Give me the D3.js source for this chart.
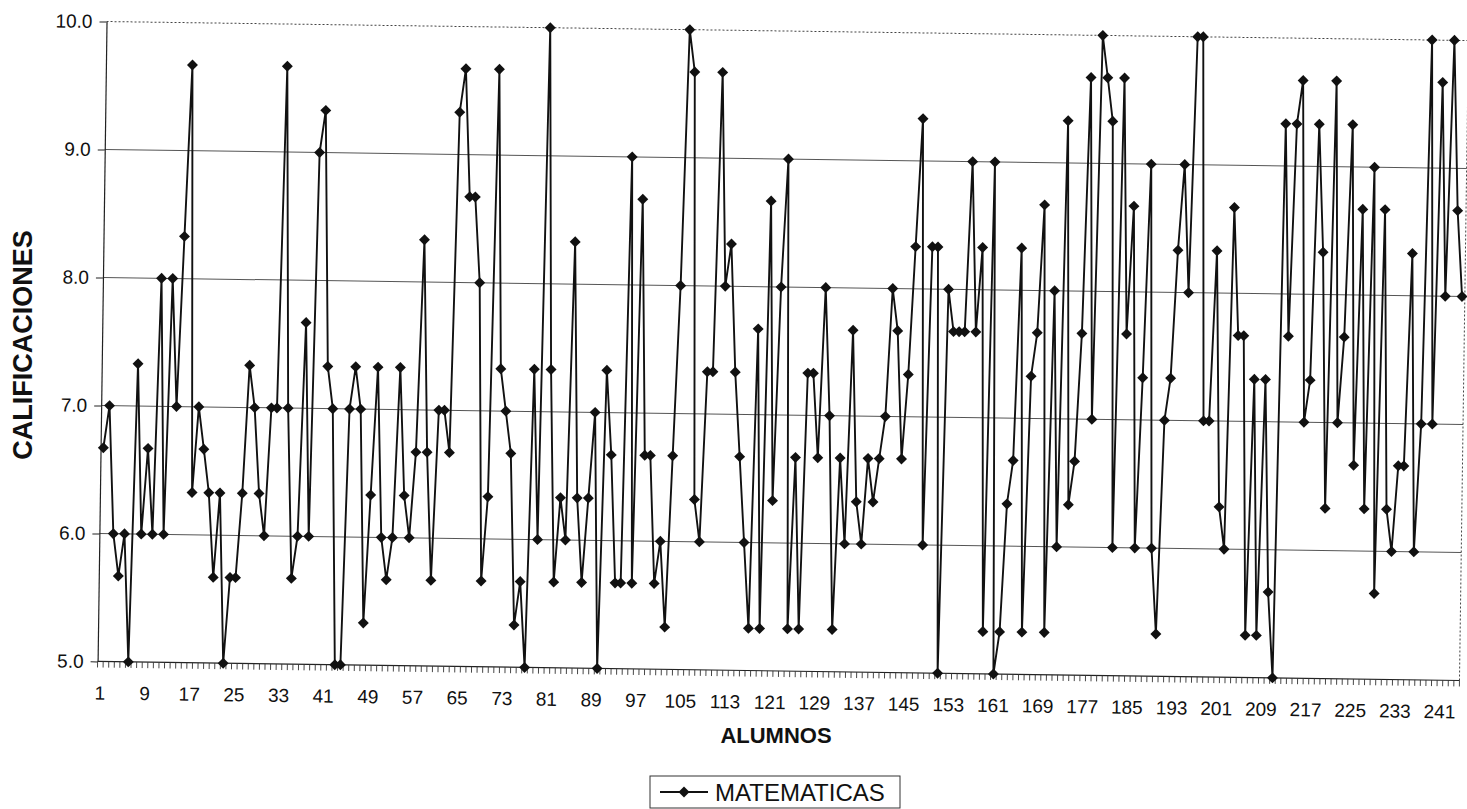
<!DOCTYPE html>
<html>
<head>
<meta charset="utf-8">
<script src="https://cdn.jsdelivr.net/npm/d3@7/dist/d3.min.js"></script>
<style>
  body { margin: 0; background: #fff; }
  svg text { font-family: "Liberation Sans", Arial, sans-serif; fill: #111; }
</style>
</head>
<body>
<script>

// calificaciones de matematicas, un valor por alumno (1..244)
const matematicas = [
  6.67, 7.0, 6.0, 5.67, 6.0, 5.0, 7.33, 6.0, 6.67, 6.0,
  8.0, 6.0, 8.0, 7.0, 8.33, 9.67, 6.33, 7.0, 6.67, 6.33,
  5.67, 6.33, 5.0, 5.67, 5.67, 6.33, 7.33, 7.0, 6.33, 6.0,
  7.0, 7.0, 9.67, 7.0, 5.67, 6.0, 7.67, 6.0, 9.0, 9.33,
  7.33, 7.0, 5.0, 5.0, 7.0, 7.33, 7.0, 5.33, 6.33, 7.33,
  6.0, 5.67, 6.0, 7.33, 6.33, 6.0, 6.67, 8.33, 6.67, 5.67,
  7.0, 7.0, 6.67, 9.33, 9.67, 8.67, 8.67, 8.0, 5.67, 6.33,
  9.67, 7.33, 7.0, 6.67, 5.33, 5.67, 5.0, 7.33, 6.0, 10.0,
  7.33, 5.67, 6.33, 6.0, 8.33, 6.33, 5.67, 6.33, 7.0, 5.0,
  7.33, 6.67, 5.67, 5.67, 9.0, 5.67, 8.67, 6.67, 6.67, 5.67,
  6.0, 5.33, 6.67, 8.0, 10.0, 9.67, 6.33, 6.0, 7.33, 7.33,
  9.67, 8.0, 8.33, 7.33, 6.67, 6.0, 5.33, 7.67, 5.33, 8.67,
  6.33, 8.0, 9.0, 5.33, 6.67, 5.33, 7.33, 7.33, 6.67, 8.0,
  7.0, 5.33, 6.67, 6.0, 7.67, 6.33, 6.0, 6.67, 6.33, 6.67,
  7.0, 8.0, 7.67, 6.67, 7.33, 8.33, 9.33, 6.0, 8.33, 8.33,
  5.0, 8.0, 7.67, 7.67, 7.67, 9.0, 7.67, 8.33, 5.33, 9.0,
  5.0, 5.33, 6.33, 6.67, 8.33, 5.33, 7.33, 7.67, 8.67, 5.33,
  8.0, 6.0, 9.33, 6.33, 6.67, 7.67, 9.67, 7.0, 10.0, 9.67,
  9.33, 6.0, 9.67, 7.67, 8.67, 6.0, 7.33, 9.0, 6.0, 5.33,
  7.0, 7.33, 8.33, 9.0, 8.0, 10.0, 10.0, 7.0, 7.0, 8.33,
  6.33, 6.0, 8.67, 7.67, 7.67, 5.33, 7.33, 5.33, 7.33, 5.67,
  5.0, 9.33, 7.67, 9.33, 9.67, 7.0, 7.33, 9.33, 8.33, 6.33,
  9.67, 7.0, 7.67, 9.33, 6.67, 8.67, 6.33, 9.0, 5.67, 8.67,
  6.33, 6.0, 6.67, 6.67, 8.33, 6.0, 7.0, 10.0, 7.0, 9.67,
  8.0, 10.0, 8.67, 8.0
];

const alumnos = matematicas.map((d, i) => i + 1);

const xTickLabels = [1, 9, 17, 25, 33, 41, 49, 57, 65, 73, 81, 89, 97, 105, 113, 121,
  129, 137, 145, 153, 161, 169, 177, 185, 193, 201, 209, 217, 225, 233, 241];
const yTicks = [5, 6, 7, 8, 9, 10];

const serie = alumnos.map((a, i) => ({alumno: a, nota: matematicas[i]}));

const width = 1467, height = 809;
const plot = {left: 102, right: 1464, top: 31, bottom: 671};

const svg = d3.select("body")
  .append("svg")
  .attr("width", width)
  .attr("height", height);

// la hoja escaneada esta un poco girada
const g = svg.append("g")
  .attr("transform", "rotate(0.8 783 351)");

const x = d3.scaleBand()
  .domain(alumnos)
  .range([plot.left, plot.right])
  .paddingInner(0);

const xc = a => x(a) + x.bandwidth() / 2;

const y = d3.scaleLinear()
  .domain([5, 10])
  .range([plot.bottom, plot.top]);

// lineas de division
g.selectAll(".grid")
  .data(yTicks.filter(v => v > 5 && v < 10))
  .enter()
    .append("line")
    .attr("class", "grid")
    .attr("x1", plot.left)
    .attr("x2", plot.right)
    .attr("y1", d => y(d))
    .attr("y2", d => y(d))
    .attr("stroke", "#555")
    .attr("stroke-width", 1);

// borde punteado arriba y a la derecha
g.append("path")
  .attr("d", `M${plot.left},${y(10)}H${plot.right}V${plot.bottom}`)
  .attr("fill", "none")
  .attr("stroke", "#444")
  .attr("stroke-width", 1)
  .attr("stroke-dasharray", "2,2");

// eje y
const yAxis = g.append("g")
  .attr("transform", `translate(${plot.left},0)`)
  .call(d3.axisLeft(y)
    .tickValues(yTicks)
    .tickFormat(d3.format(".1f"))
    .tickSize(7)
    .tickSizeOuter(0)
    .tickPadding(7));
yAxis.select(".domain").attr("stroke", "#222").attr("stroke-width", 1.2);
yAxis.selectAll(".tick line").attr("stroke", "#222");
yAxis.selectAll("text").attr("font-size", 19).attr("fill", "#111");

// eje x: marcas menores entre categorias
g.append("line")
  .attr("x1", plot.left)
  .attr("x2", plot.right)
  .attr("y1", plot.bottom)
  .attr("y2", plot.bottom)
  .attr("stroke", "#222")
  .attr("stroke-width", 1.2);

g.selectAll(".minor")
  .data(alumnos.concat(["fin"]))
  .enter()
    .append("line")
    .attr("class", "minor")
    .attr("x1", d => d === "fin" ? plot.right : x(d))
    .attr("x2", d => d === "fin" ? plot.right : x(d))
    .attr("y1", plot.bottom)
    .attr("y2", plot.bottom + 6)
    .attr("stroke", "#333")
    .attr("stroke-width", 0.9);

g.selectAll(".xlabel")
  .data(xTickLabels)
  .enter()
    .append("text")
    .attr("class", "xlabel")
    .attr("x", d => xc(d))
    .attr("y", plot.bottom + 38)
    .attr("text-anchor", "middle")
    .attr("font-size", 19)
    .text(d => d);

// serie
const line = d3.line()
  .x(d => xc(d.alumno))
  .y(d => y(d.nota));

g.append("path")
  .datum(serie)
  .attr("d", line)
  .attr("fill", "none")
  .attr("stroke", "#111")
  .attr("stroke-width", 1.9)
  .attr("stroke-linejoin", "round");

const marker = d3.symbol().type(d3.symbolSquare).size(60);

g.selectAll(".punto")
  .data(serie)
  .enter()
    .append("path")
    .attr("class", "punto")
    .attr("d", marker)
    .attr("transform", d => `translate(${xc(d.alumno)},${y(d.nota)}) rotate(45)`)
    .attr("fill", "#111");

// titulos
svg.append("text")
  .attr("transform", "translate(32,345) rotate(-90)")
  .attr("text-anchor", "middle")
  .attr("font-size", 27)
  .attr("font-weight", "bold")
  .text("CALIFICACIONES");

svg.append("text")
  .attr("x", 776)
  .attr("y", 743)
  .attr("text-anchor", "middle")
  .attr("font-size", 22)
  .attr("font-weight", "bold")
  .text("ALUMNOS");

// leyenda
const legend = svg.append("g").attr("transform", "translate(650,776)");
legend.append("rect")
  .attr("width", 250)
  .attr("height", 32)
  .attr("fill", "#fff")
  .attr("stroke", "#333")
  .attr("stroke-width", 1);
legend.append("line")
  .attr("x1", 10).attr("x2", 58)
  .attr("y1", 16).attr("y2", 16)
  .attr("stroke", "#111")
  .attr("stroke-width", 1.9);
legend.append("path")
  .attr("d", marker)
  .attr("transform", "translate(34,16) rotate(45)")
  .attr("fill", "#111");
legend.append("text")
  .attr("x", 65)
  .attr("y", 25)
  .attr("font-size", 24)
  .text("MATEMATICAS");

</script>
</body>
</html>
